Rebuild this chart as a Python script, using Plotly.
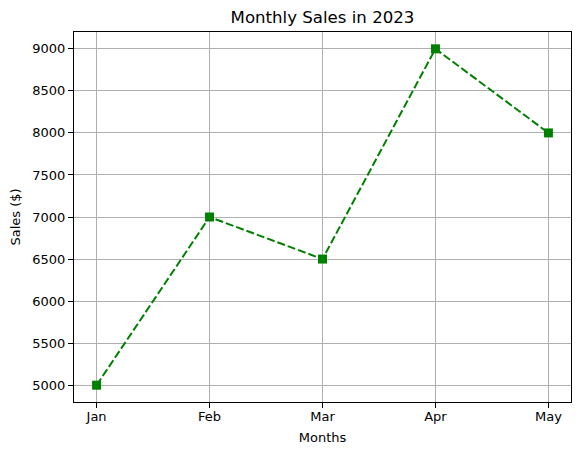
import plotly.graph_objects as go

months = ["Jan", "Feb", "Mar", "Apr", "May"]
sales = [5000, 7000, 6500, 9000, 8000]

fig = go.Figure()

fig.add_trace(go.Scatter(
    x=months,
    y=sales,
    mode='lines+markers',
    line=dict(color='green', width=2, dash='8px,3px'),
    marker=dict(symbol='square', size=9, color='green'),
    showlegend=False
))

axis_style = dict(
    showline=True,
    linecolor='black',
    linewidth=1,
    mirror=True,
    ticks='outside',
    ticklen=5,
    tickwidth=1,
    tickcolor='black',
    showgrid=True,
    gridcolor='#b0b0b0',
    gridwidth=1,
    zeroline=False,
    automargin=False,
    tickfont=dict(size=13, color='black'),
)

# page body has an 8px margin, so the figure is a bit smaller than the window
fig.update_layout(
    width=572,
    height=447,
    margin=dict(l=66, r=9, t=24, b=53),
    plot_bgcolor='white',
    paper_bgcolor='white',
    font=dict(family='DejaVu Sans', color='black'),
    title=dict(text='Monthly Sales in 2023', xref='paper', x=0.5, xanchor='center',
               y=0.98, yanchor='middle', font=dict(size=16.6)),
    xaxis=dict(axis_style, range=[-0.2, 4.2], ticklabelstandoff=-3,
               title=dict(text='Months', font=dict(size=13), standoff=10)),
    yaxis=dict(axis_style, range=[4800, 9200], dtick=500,
               title=dict(text='Sales ($)', font=dict(size=13), standoff=8)),
)

fig.write_html("out.html")
